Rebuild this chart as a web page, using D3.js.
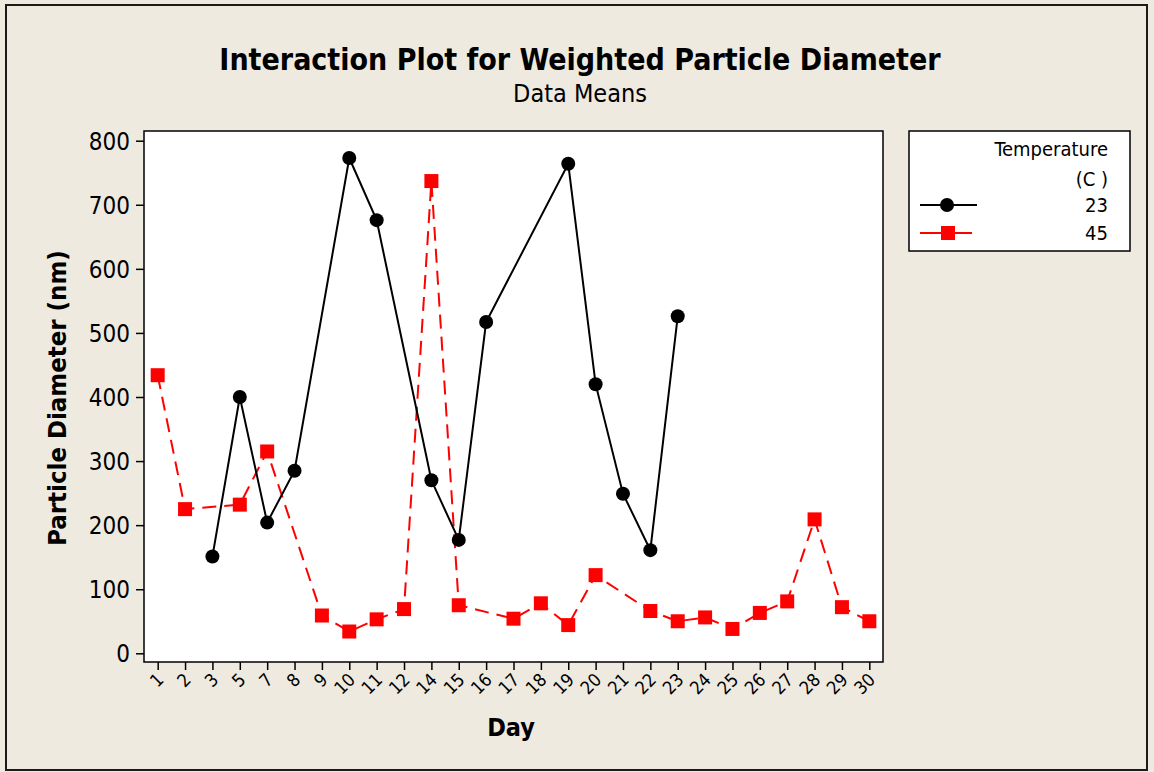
<!DOCTYPE html>
<html>
<head>
<meta charset="utf-8">
<script src="https://cdn.jsdelivr.net/npm/d3@7"></script>
<style>
  html, body { margin: 0; padding: 0; background: #EEEAE0; }
  svg { display: block; }
  text { font-family: Tahoma, "DejaVu Sans Condensed", "DejaVu Sans", sans-serif; fill: #000; }
</style>
</head>
<body>
<svg id="chart" width="1154" height="772"></svg>
<script>
// Day levels (categorical x axis)
const days = ["1","2","3","5","7","8","9","10","11","12","14","15","16","17","18","19","20","21","22","23","24","25","26","27","28","29","30"];
// Mean particle diameter (nm) at 23 C; null where that day has no data
const diam23 = [null,null,151,400,204,285,null,773,676,null,270,177,517,null,null,764,420,249,161,526,null,null,null,null,null,null,null];
// Mean particle diameter (nm) at 45 C
const diam45 = [434,225,null,232,315,null,59,34,53,69,737,75,null,54,78,44,122,null,66,50,56,38,63,81,209,72,50];
// Y axis ticks
const yTicks = [0,100,200,300,400,500,600,700,800];
// Legend entries
const temps = ["23","45"];

const svg = d3.select("#chart");
const W = 1154, H = 772;

// outer frame
svg.append("rect").attr("x", 6).attr("y", 5).attr("width", W - 13).attr("height", H - 7)
  .attr("fill", "#EEEAE0").attr("stroke", "#1a1a1a").attr("stroke-width", 2);

const plot = {left: 144, right: 883, top: 131, bottom: 662};

const x = d3.scalePoint().domain(days).range([plot.left, plot.right]).padding(0.5);
const y = d3.scaleLinear().domain([0, 800]).range([653.3, 140.7]);

// plot area
svg.append("rect").attr("x", plot.left).attr("y", plot.top)
  .attr("width", plot.right - plot.left).attr("height", plot.bottom - plot.top)
  .attr("fill", "#fff").attr("stroke", "#000").attr("stroke-width", 1.5);

// y axis
const yAxis = svg.append("g").attr("transform", `translate(${plot.left},0)`)
  .call(d3.axisLeft(y).tickValues(yTicks).tickSize(8).tickPadding(6));
yAxis.select(".domain").remove();
yAxis.selectAll("line").attr("stroke", "#000").attr("stroke-width", 1.5);
yAxis.selectAll("text").style("font-size", "24px").attr("dy", "0.36em");

// x axis
const xAxis = svg.append("g").attr("transform", `translate(0,${plot.bottom})`)
  .call(d3.axisBottom(x).tickSize(8).tickFormat(() => ""));
xAxis.select(".domain").remove();
xAxis.selectAll("line").attr("stroke", "#000").attr("stroke-width", 1.5);

// rotated day labels
svg.append("g").selectAll("text").data(days).join("text")
  .attr("transform", d => `translate(${x(d) + 7},${plot.bottom + 19}) rotate(-45)`)
  .attr("text-anchor", "end")
  .style("font-size", "18px")
  .text(d => d);

// axis titles
svg.append("text").attr("x", 511).attr("y", 736).attr("text-anchor", "middle")
  .style("font-size", "25px").style("font-weight", "bold").text("Day");
svg.append("text").attr("transform", "translate(66,398) rotate(-90)").attr("text-anchor", "middle")
  .style("font-size", "25.5px").style("font-weight", "bold").text("Particle Diameter (nm)");

// titles
svg.append("text").attr("x", 580).attr("y", 70).attr("text-anchor", "middle")
  .style("font-size", "30px").style("font-weight", "bold")
  .text("Interaction Plot for Weighted Particle Diameter");
svg.append("text").attr("x", 580).attr("y", 102).attr("text-anchor", "middle")
  .style("font-size", "25px").text("Data Means");

// series
const toPts = vals => days.map((d, i) => ({d, v: vals[i]})).filter(p => p.v != null);
const line = d3.line().x(p => x(p.d)).y(p => y(p.v));

const pts23 = toPts(diam23), pts45 = toPts(diam45);

svg.append("path").datum(pts45).attr("d", line).attr("fill", "none")
  .attr("stroke", "#ff0000").attr("stroke-width", 2).attr("stroke-dasharray", "14,8");
svg.append("path").datum(pts23).attr("d", line).attr("fill", "none")
  .attr("stroke", "#000").attr("stroke-width", 2);

svg.append("g").selectAll("rect").data(pts45).join("rect")
  .attr("x", p => x(p.d) - 7).attr("y", p => y(p.v) - 7)
  .attr("width", 14).attr("height", 14).attr("fill", "#ff0000");
svg.append("g").selectAll("circle").data(pts23).join("circle")
  .attr("cx", p => x(p.d)).attr("cy", p => y(p.v)).attr("r", 7).attr("fill", "#000");

// legend
const lg = svg.append("g");
lg.append("rect").attr("x", 909).attr("y", 131).attr("width", 221).attr("height", 120)
  .attr("fill", "#fff").attr("stroke", "#000").attr("stroke-width", 1.5);
lg.append("text").attr("x", 1108).attr("y", 156).attr("text-anchor", "end").style("font-size", "20px").text("Temperature");
lg.append("text").attr("x", 1108).attr("y", 186).attr("text-anchor", "end").style("font-size", "20px").text("(C )");
const ly = [205, 233];
temps.forEach((t, i) => {
  const cy = ly[i];
  if (i === 0) {
    lg.append("line").attr("x1", 920).attr("x2", 977).attr("y1", cy).attr("y2", cy).attr("stroke", "#000").attr("stroke-width", 2);
    lg.append("circle").attr("cx", 947).attr("cy", cy).attr("r", 7).attr("fill", "#000");
  } else {
    lg.append("line").attr("x1", 920).attr("x2", 972).attr("y1", cy).attr("y2", cy).attr("stroke", "#ff0000").attr("stroke-width", 2);
    lg.append("rect").attr("x", 941).attr("y", cy - 7).attr("width", 14).attr("height", 14).attr("fill", "#ff0000");
  }
  lg.append("text").attr("x", 1108).attr("y", cy + 7).attr("text-anchor", "end").style("font-size", "20px").text(t);
});
</script>
</body>
</html>
